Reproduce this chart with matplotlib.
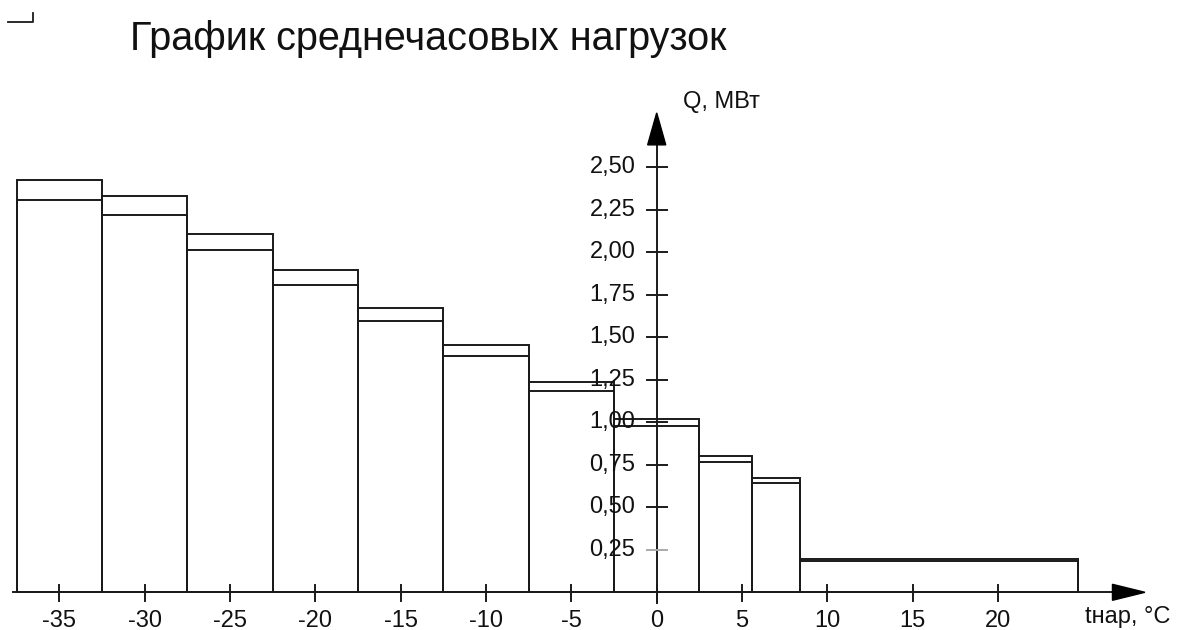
import numpy as np
import matplotlib
matplotlib.use("Agg")
import matplotlib.pyplot as plt
from matplotlib.lines import Line2D

plt.rcParams['font.family'] = ['Liberation Sans', 'DejaVu Sans']

# temperature bins (edges, deg C) and hourly average loads, MW
bin_edges = [-37.5, -32.5, -27.5, -22.5, -17.5, -12.5, -7.5, -2.5, 2.5, 5.6, 8.4, 24.7]
q_upper = [2.424, 2.329, 2.109, 1.894, 1.672, 1.455, 1.237, 1.019, 0.802, 0.671, 0.196]
q_lower = [2.306, 2.218, 2.012, 1.807, 1.598, 1.390, 1.182, 0.978, 0.768, 0.641, 0.186]

x_ticks = [-35, -30, -25, -20, -15, -10, -5, 0, 5, 10, 15, 20]
y_ticks = [0.25, 0.50, 0.75, 1.00, 1.25, 1.50, 1.75, 2.00, 2.25, 2.50]
y_tick_labels = ['0,25', '0,50', '0,75', '1,00', '1,25', '1,50', '1,75', '2,00', '2,25', '2,50']

W, H = 1178, 630
fig = plt.figure(figsize=(W / 100, H / 100), dpi=100)
ax = fig.add_axes([0, 0, 1, 1])

# pixel scale of the drawing
px_x = 17.07   # px per degree
px_y = 170.0   # px per MW
x0_px, y0_px = 656.7, 592.3
ax.set_xlim(-x0_px / px_x, (W - x0_px) / px_x)
ax.set_ylim((y0_px - H) / px_y, y0_px / px_y)
ax.axis('off')

lw = 1.4
col = '#1a1a1a'

left = np.array(bin_edges[:-1])
widths = np.diff(bin_edges)
ax.bar(left, q_upper, width=widths, align='edge', fill=False,
       edgecolor=col, linewidth=lw, zorder=2)
ax.bar(left, q_lower, width=widths, align='edge', fill=False,
       edgecolor=col, linewidth=lw, zorder=2)

# x axis with arrow
ax.plot([-37.7, 26.8], [0, 0], color=col, lw=lw, zorder=3)
ax.fill([26.7, 28.6, 26.7], [0.047, 0, -0.047], color='black', zorder=3)
# y axis with arrow
ax.plot([0, 0], [-0.063, 2.64], color=col, lw=lw, zorder=3)
ax.fill([-0.53, 0, 0.53], [2.632, 2.82, 2.632], color='black', zorder=3)

# x ticks
for t in x_ticks:
    ax.plot([t, t], [-0.05, 0.045], color=col, lw=lw, zorder=3)
    ax.text(t, -0.17, str(t), ha='center', va='center', fontsize=17, color='#111111')

# y ticks
for t, lab in zip(y_ticks, y_tick_labels):
    c = '#aaaaaa' if t == 0.25 else col
    ax.plot([-0.59, 0.59], [t, t], color=c, lw=lw, zorder=3)
    ax.text(-1.25, t, lab, ha='right', va='center', fontsize=17, color='#111111')

ax.text(1.55, 2.885, 'Q, МВт', ha='left', va='center', fontsize=17, color='#111111')
ax.text(25.1, -0.145, 'tнар, °C', ha='left', va='center', fontsize=17, color='#111111')

fig.text(130 / W, 1 - 50 / H, 'График среднечасовых нагрузок', ha='left',
         va='baseline', fontsize=28.5, color='#111111')

# small corner mark top-left
fig.add_artist(Line2D(np.array([8, 32.5, 32.5]) / W, 1 - np.array([21.7, 21.7, 13.3]) / H,
                      color=col, lw=1.3))

fig.savefig('out.png', dpi=100)
